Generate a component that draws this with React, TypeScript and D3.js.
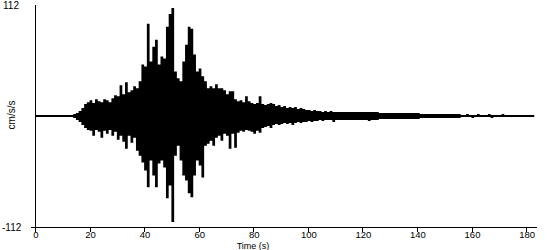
import React from "react";
import * as d3 from "d3";

// seconds 0..183, peak positive and peak negative (abs) acceleration per 1 s bin, cm/s/s
const upperPeaks = [
  1,1,1,1,1,1,1,1,1,1,1,1,1,1,
  2,3,5,8,12,14,16,13,17,15,14,17,16,14,18,21,
  20,31,22,34,24,26,30,28,35,52,50,93,55,70,77,52,60,58,90,103,
  109,45,38,35,55,72,90,88,62,45,48,40,35,28,30,28,32,28,28,26,
  22,25,25,17,15,16,14,20,15,13,12,13,20,12,11,12,13,12,10,11,
  9,10,8,9,8,9,7,8,7,6,6,5,6,5,5,4,5,4,5,4,
  4,4,4,4,4,4,4,4,4,4,4,4,4,4,4,4,3,3,3,3,
  3,3,3,3,3,3,3,3,3,3,3,2,2,2,2,2,2,2,2,2,
  2,2,2,2,2,2,1,1,2,1,1,1,2,1,1,1,2,1,1,1,
  1,2,1,1,1,1,1,1,1,1,1,1,1,1
];
const lowerPeaks = [
  1,1,1,1,1,1,1,1,1,1,1,1,1,1,
  2,4,6,9,12,14,15,20,14,16,22,15,18,14,20,16,
  24,20,26,33,20,27,22,35,40,47,55,72,45,60,72,48,45,52,83,70,
  107,40,30,45,60,65,78,82,60,45,50,62,30,28,25,30,22,20,25,18,
  20,33,18,32,17,15,16,14,15,16,18,15,17,12,11,10,12,9,8,9,
  8,7,8,7,9,7,6,7,6,6,5,6,5,5,4,5,4,4,4,6,
  4,4,4,4,4,4,4,4,4,4,4,4,5,4,4,4,3,3,3,3,
  3,3,3,3,3,3,3,3,3,3,3,2,2,2,2,2,2,2,2,2,
  2,2,2,2,2,2,1,1,1,1,2,1,1,1,1,1,1,2,1,1,
  1,1,1,1,1,1,1,1,1,1,1,1,1,1
];
const xTicks = [0, 20, 40, 60, 80, 100, 120, 140, 160, 180];
const yTickLabels = ["112", "-112"];
const xLabel = "Time (s)";
const yLabel = "cm/s/s";

export default function App() {
  const W = 550, H = 250;
  const x = d3.scaleLinear().domain([0, 184]).range([35, 537]);
  const y = d3.scaleLinear().domain([-112, 112]).range([227, 5]);
  const data = upperPeaks.map((u, i) => ({ t: i, u, l: lowerPeaks[i] }));
  const area = d3
    .area<{ t: number; u: number; l: number }>()
    .x((d) => x(d.t))
    .y0((d) => y(-d.l))
    .y1((d) => y(d.u))
    .curve(d3.curveStepAfter);
  const font = "'Liberation Sans', Arial, sans-serif";
  return (
    <svg
      width={W}
      height={H}
      style={{ position: "absolute", left: 0, top: 0, background: "#fff" }}
      fontFamily={font}
      fontSize={10}
    >
      <rect width={W} height={H} fill="#fff" />
      <path d={area(data) || ""} fill="#000" stroke="none" />
      {/* axes */}
      <line x1={35.5} x2={35.5} y1={5} y2={227} stroke="#000" />
      <line x1={31} x2={537} y1={227.5} y2={227.5} stroke="#000" />
      {xTicks.map((t) => (
        <g key={t}>
          <line x1={Math.round(x(t)) + 0.5} x2={Math.round(x(t)) + 0.5} y1={227} y2={232} stroke="#000" />
          <text x={x(t) + 1} y={238} textAnchor="middle" fill="#000" fontSize={9.5}>
            {t}
          </text>
        </g>
      ))}
      <text x={3} y={9} fill="#000">{yTickLabels[0]}</text>
      <text x={2} y={231} fill="#000">{yTickLabels[1]}</text>
      <text x={253} y={248.5} textAnchor="middle" fill="#000" fontSize={9}>{xLabel}</text>
      <text
        transform={`translate(15,115) rotate(-90)`}
        textAnchor="middle"
        fill="#000"
      >
        {yLabel}
      </text>
    </svg>
  );
}
